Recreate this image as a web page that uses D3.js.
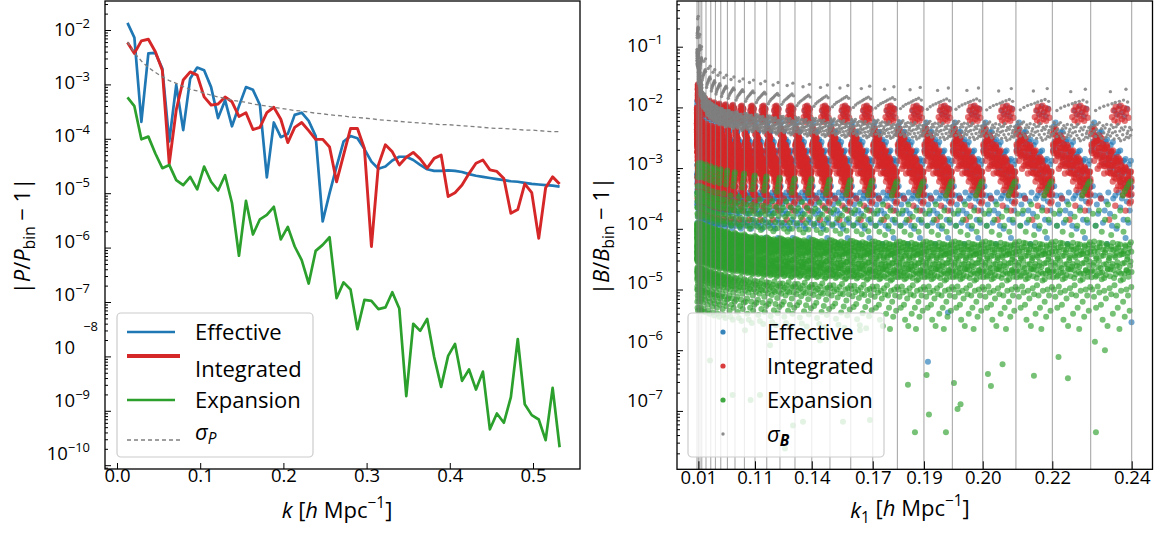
<!DOCTYPE html>
<html>
<head>
<meta charset="utf-8">
<script src="https://cdn.jsdelivr.net/npm/d3@7"></script>
<style>
  body { margin: 0; background: #fff; }
  svg text { font-family: "Open Sans", "Noto Sans", sans-serif; fill: #000; }
</style>
</head>
<body>
<svg id="fig" width="1166" height="534"></svg>
<script>
// =====================
// LEFT PANEL: P(k) data
// =====================

const kVals = [0.0126, 0.0209, 0.0293, 0.0377, 0.0461, 0.0545, 0.0628, 0.0712, 0.0796, 0.0880,
  0.0964, 0.1047, 0.1131, 0.1215, 0.1299, 0.1382, 0.1466, 0.1550, 0.1634, 0.1718,
  0.1801, 0.1885, 0.1969, 0.2053, 0.2136, 0.2220, 0.2304, 0.2388, 0.2472, 0.2555,
  0.2639, 0.2723, 0.2807, 0.2890, 0.2974, 0.3058, 0.3142, 0.3226, 0.3309, 0.3393,
  0.3477, 0.3561, 0.3644, 0.3728, 0.3812, 0.3896, 0.3980, 0.4063, 0.4147, 0.4231,
  0.4315, 0.4398, 0.4482, 0.4566, 0.4650, 0.4734, 0.4817, 0.4901, 0.4985, 0.5069,
  0.5152, 0.5236, 0.5320];

// log10 |P/P_bin - 1|
const effLog = [-1.87, -2.14, -3.69, -2.43, -2.42, -2.71, -4.05, -3.01, -3.84, -2.89,
  -2.69, -2.74, -3.05, -3.62, -3.29, -3.77, -3.40, -3.05, -3.10, -3.38,
  -4.71, -3.70, -3.97, -3.91, -3.56, -3.52, -3.67, -3.95, -5.52, -5.00,
  -4.51, -4.05, -3.95, -3.99, -4.19, -4.42, -4.55, -4.51, -4.40, -4.33,
  -4.33, -4.39, -4.48, -4.56, -4.59, -4.59, -4.58, -4.59, -4.61, -4.65,
  -4.68, -4.70, -4.72, -4.74, -4.76, -4.78, -4.79, -4.81, -4.83, -4.84,
  -4.85, -4.86, -4.88];
const intLog = [-2.23, -2.43, -2.20, -2.17, -2.40, -2.74, -4.46, -3.47, -2.92, -2.77,
  -2.83, -3.23, -3.38, -3.36, -3.23, -3.32, -3.59, -3.52, -3.83, -3.79,
  -3.52, -3.42, -3.64, -4.07, -3.79, -3.70, -3.85, -4.01, -4.01, -4.15,
  -4.79, -4.30, -3.81, -3.81, -4.18, -5.98, -4.48, -4.11, -4.24, -4.48,
  -4.34, -4.25, -4.37, -4.54, -4.36, -4.30, -5.06, -4.99, -4.85, -4.64,
  -4.45, -4.39, -4.57, -4.60, -4.73, -5.37, -5.30, -4.83, -4.99, -5.83,
  -4.90, -4.70, -4.83];
const expLog = [-3.24, -3.40, -4.01, -3.96, -4.27, -4.54, -4.48, -4.76, -4.85, -4.70,
  -4.93, -4.51, -4.79, -4.95, -4.67, -5.18, -6.15, -5.14, -5.76, -5.48,
  -5.40, -5.25, -5.85, -5.62, -5.98, -6.23, -6.66, -6.06, -5.95, -5.81,
  -6.93, -6.64, -6.77, -7.50, -6.96, -6.98, -7.13, -7.10, -6.82, -7.12,
  -8.73, -7.40, -7.53, -7.31, -8.01, -8.56, -7.99, -7.77, -8.45, -8.24,
  -8.61, -8.28, -9.34, -9.05, -9.22, -8.75, -7.68, -8.88, -9.08, -9.16,
  -9.54, -8.58, -9.67];
const sigPLog = [-2.22, -2.42, -2.57, -2.69, -2.78, -2.86, -2.93, -2.98, -3.04, -3.09,
  -3.12, -3.16, -3.20, -3.23, -3.26, -3.29, -3.31, -3.33, -3.36, -3.38,
  -3.40, -3.42, -3.44, -3.46, -3.48, -3.49, -3.51, -3.53, -3.54, -3.56,
  -3.57, -3.58, -3.60, -3.61, -3.62, -3.63, -3.65, -3.66, -3.67, -3.68,
  -3.69, -3.70, -3.71, -3.72, -3.73, -3.74, -3.74, -3.75, -3.76, -3.77,
  -3.78, -3.79, -3.80, -3.81, -3.81, -3.82, -3.83, -3.84, -3.84, -3.85,
  -3.86, -3.87, -3.87];

const kTicks = [0, 0.1, 0.2, 0.3, 0.4, 0.5];

// ==========================
// RIGHT PANEL: B(k1,k2,k3)
// ==========================

// triangle index where each k1 bin ends (vertical lines)
const binEdges = [0, 7, 15, 24, 45, 69, 92, 119, 152, 190, 237, 290, 349, 415, 490,
  574, 665, 769, 879, 1002, 1135, 1277, 1429, 1595, 1777, 1969, 2174];
const k1TickIdx = [7, 290, 574, 879, 1135, 1429, 1777, 2174];
const k1TickLab = ["0.01", "0.11", "0.14", "0.17", "0.19", "0.20", "0.22", "0.24"];

// position of a triangle inside its k1 bin (0..1), two interleaved sets
const uA = [0.01, 0.03, 0.05, 0.08, 0.09, 0.12, 0.14, 0.16, 0.19, 0.21, 0.23, 0.26, 0.27, 0.30, 0.32,
  0.35, 0.37, 0.39, 0.41, 0.44, 0.46, 0.48, 0.50, 0.53, 0.55, 0.57, 0.60, 0.62, 0.64, 0.66,
  0.69, 0.71, 0.73, 0.75, 0.78, 0.80, 0.82, 0.84, 0.87, 0.89, 0.91, 0.93, 0.95, 0.97, 0.99];
const uB = [0.02, 0.04, 0.06, 0.085, 0.10, 0.13, 0.15, 0.17, 0.20, 0.22, 0.24, 0.265, 0.28, 0.31, 0.33,
  0.36, 0.38, 0.40, 0.42, 0.45, 0.47, 0.49, 0.51, 0.54, 0.56, 0.58, 0.61, 0.63, 0.65, 0.67,
  0.70, 0.72, 0.74, 0.76, 0.79, 0.81, 0.83, 0.85, 0.88, 0.90, 0.92, 0.94, 0.96, 0.98, 0.995];

// log10 |B/B_bin - 1| in a typical k1 bin, main band
const intA = [-2.44, -2.64, -2.36, -2.59, -2.46, -2.79, -2.59, -2.48, -2.73, -2.46, -2.83, -2.66, -2.94, -2.61, -2.81,
  -2.69, -2.97, -2.62, -2.93, -2.85, -2.80, -3.00, -2.72, -2.95, -2.83, -3.15, -2.96, -2.85, -3.09, -2.82,
  -3.20, -3.02, -3.30, -2.97, -3.17, -3.05, -3.33, -2.98, -3.30, -3.21, -3.16, -3.36, -3.08, -3.31, -3.18];
const intB = [-2.72, -2.39, -2.61, -2.35, -2.71, -2.56, -2.80, -2.54, -2.67, -2.52, -2.78, -2.51, -2.86, -2.69, -2.97,
  -2.67, -2.84, -2.65, -2.95, -2.83, -3.08, -2.75, -2.97, -2.71, -3.08, -2.92, -3.17, -2.90, -3.03, -2.88,
  -3.15, -2.88, -3.23, -3.05, -3.34, -3.03, -3.20, -3.01, -3.31, -3.19, -3.44, -3.11, -3.33, -3.06, -3.43];
const intC = [-2.61, -2.75, -2.39, -2.88, -2.55, -2.76, -2.54, -3.01, -2.67, -2.96, -2.50, -2.90, -2.60, -2.80, -3.09,
  -2.72, -2.92, -2.66, -3.07, -2.84, -2.95, -3.09, -2.73, -3.22, -2.89, -3.10, -2.88, -3.36, -3.01, -3.30,
  -2.85, -3.23, -2.95, -3.13, -3.44, -3.06, -3.26, -3.00, -3.41, -3.18, -3.28, -3.43, -3.06, -3.55, -3.22];
const effB = [-2.70, -2.31, -2.56, -2.25, -2.68, -2.49, -2.78, -2.45, -2.60, -2.41, -2.73, -2.40, -2.82, -2.60, -2.93,
  -2.56, -2.77, -2.53, -2.87, -2.73, -3.02, -2.62, -2.88, -2.57, -3.00, -2.81, -3.10, -2.77, -2.92, -2.73,
  -3.05, -2.71, -3.14, -2.91, -3.25, -2.88, -3.08, -2.85, -3.20, -3.04, -3.33, -2.94, -3.19, -2.88, -3.31];
const expA = [-4.42, -4.69, -4.27, -4.56, -4.37, -4.79, -4.49, -4.31, -4.63, -4.23, -4.73, -4.45, -4.83, -4.34, -4.59,
  -4.39, -4.76, -4.25, -4.66, -4.52, -4.44, -4.67, -4.29, -4.58, -4.35, -4.81, -4.47, -4.33, -4.61, -4.25,
  -4.71, -4.43, -4.85, -4.36, -4.57, -4.41, -4.74, -4.27, -4.68, -4.50, -4.40, -4.71, -4.26, -4.54, -4.38];
const expB = [-4.80, -4.32, -4.60, -4.21, -4.70, -4.46, -4.77, -4.38, -4.53, -4.30, -4.65, -4.24, -4.72, -4.44, -4.81,
  -4.35, -4.58, -4.28, -4.67, -4.48, -4.78, -4.34, -4.62, -4.23, -4.68, -4.44, -4.75, -4.40, -4.55, -4.31,
  -4.63, -4.26, -4.74, -4.42, -4.83, -4.37, -4.56, -4.29, -4.69, -4.46, -4.79, -4.33, -4.61, -4.22, -4.71];
const sigBA = [-2.32, -2.43, -2.25, -2.39, -2.30, -2.48, -2.36, -2.28, -2.43, -2.25, -2.47, -2.35, -2.51, -2.30, -2.42,
  -2.34, -2.49, -2.28, -2.45, -2.40, -2.36, -2.47, -2.29, -2.42, -2.33, -2.52, -2.40, -2.32, -2.46, -2.28,
  -2.51, -2.39, -2.55, -2.34, -2.45, -2.37, -2.53, -2.32, -2.49, -2.43, -2.39, -2.50, -2.33, -2.46, -2.37];

// smaller groups: [position in bin, log10 value]
const intExtra = [
  [0.52, -2.16], [0.56, -2.05], [0.58, -2.21], [0.61, -1.99], [0.63, -2.11], [0.66, -2.24], [0.68, -2.03],
  [0.71, -2.14], [0.73, -1.97], [0.76, -2.19], [0.78, -2.07], [0.81, -2.01], [0.83, -2.22], [0.86, -2.10],
  [0.89, -2.03], [0.92, -2.17],
  [0.25, -3.50], [0.60, -3.62], [0.85, -3.70], [0.45, -3.85], [0.95, -3.58]];
const effExtra = [
  [0.58, -2.05], [0.65, -2.12], [0.70, -1.98], [0.76, -2.08], [0.82, -2.15], [0.88, -2.02],
  [0.05, -3.30], [0.15, -3.60], [0.22, -3.45], [0.30, -3.90], [0.38, -3.55], [0.47, -3.75],
  [0.55, -3.50], [0.63, -4.00], [0.72, -3.65], [0.80, -3.85], [0.88, -3.55], [0.95, -3.70],
  [0.40, -4.25], [0.85, -4.15], [0.12, -3.95], [0.68, -3.40],
  [0.10, -3.45], [0.18, -3.75], [0.26, -3.50], [0.34, -3.70], [0.43, -3.40], [0.52, -3.95],
  [0.60, -3.45], [0.76, -3.50], [0.92, -3.90], [0.98, -3.45]];
const expExtra = [
  [0.78, -3.45], [0.83, -3.38], [0.88, -3.32], [0.93, -3.26], [0.97, -3.22],
  [0.05, -3.75], [0.12, -3.95], [0.20, -3.70], [0.27, -4.05], [0.35, -3.85], [0.42, -3.60],
  [0.50, -4.10], [0.58, -3.80], [0.65, -3.95], [0.72, -3.70], [0.80, -4.05], [0.90, -3.85],
  [0.04, -5.00], [0.13, -5.30], [0.21, -5.05], [0.29, -5.50], [0.37, -5.15], [0.46, -4.98],
  [0.54, -5.40], [0.62, -5.10], [0.70, -5.65], [0.79, -5.20], [0.87, -5.00], [0.95, -5.35],
  [0.08, -5.12], [0.17, -4.95], [0.25, -5.25], [0.33, -5.02], [0.41, -5.60], [0.50, -5.08],
  [0.58, -4.93], [0.66, -5.30], [0.74, -5.02], [0.83, -5.45], [0.91, -5.10], [0.99, -4.96]];
const sigBExtra = [
  [0.12, -2.05], [0.22, -2.01], [0.32, -1.98], [0.42, -1.96], [0.52, -1.94], [0.60, -1.92],
  [0.70, -1.90], [0.80, -1.88], [0.90, -1.91], [0.48, -1.74], [0.86, -1.70]];

// how far each k1 bin sits above the typical cloud (log10)
const effShift = [0.35, 0.25, 0.18, 0.12, 0.08, 0.05, 0.03, 0.02, 0.01, 0, 0, 0, 0, 0, 0, 0, 0, 0, 0, 0, 0, 0, 0, 0, 0, 0];
const intShift = [0.35, 0.25, 0.18, 0.12, 0.08, 0.05, 0.03, 0.02, 0.01, 0, 0, 0, 0, 0, 0, 0, 0, 0, 0, 0, 0, 0, 0, 0, 0, 0];
const expShift = [0.3, 0.3, 0.3, 0.28, 0.25, 0.22, 0.2, 0.18, 0.15, 0.13, 0.1, 0.08, 0.06, 0.05, 0.04, 0.03, 0.02, 0.01, 0, 0, 0, 0, 0, 0, 0, 0];
const sigBShift = [1.2, 0.9, 0.7, 0.5, 0.38, 0.32, 0.27, 0.23, 0.2, 0.17, 0.15, 0.13, 0.11, 0.1, 0.08, 0.07, 0.06, 0.05, 0.04, 0.03, 0.02, 0.02, 0.01, 0.01, 0, 0];

// single low points: [triangle index, log10 value]
const expOutliers = [[1090, -7.35], [1160, -7.06], [1245, -7.35], [1303, -6.97], [1318, -6.89],
  [1995, -7.35], [1055, -6.57], [1148, -6.41], [1285, -6.54], [1455, -6.39], [1470, -6.59],
  [1528, -6.23], [1685, -6.42], [1808, -6.11], [1855, -6.46], [2040, -6.0], [1990, -5.86],
  [178, -6.74], [268, -6.82], [440, -7.62], [530, -7.18], [730, -7.18], [480, -7.24],
  [240, -5.67], [365, -5.92], [615, -5.84], [815, -5.67], [65, -6.17], [315, -6.74],
  [715, -6.24], [865, -7.15]];
const effOutliers = [[1155, -6.19], [2173, -5.54], [1255, -5.38]];

// ======
// LAYOUT
// ======

const svg = d3.select("#fig");
const BLUE = "#1f77b4", RED = "#d62728", GREEN = "#2ca02c", GREY = "#7f7f7f";
const tickFont = 18.5, bigFont = 22;

const L = { x0: 105, x1: 580, y0: 1, y1: 469 };
const R = { x0: 677, x1: 1152.5, y0: 1, y1: 469.3 };

const xL = d3.scaleLinear().domain([-0.01442, 0.5565]).range([L.x0, L.x1]);
const yL = d3.scaleLog().domain([Math.pow(10, -10.07), Math.pow(10, -1.467)]).range([L.y1, L.y0]);
const xR = d3.scaleLinear().domain([-100, 2278]).range([R.x0, R.x1]);
const yR = d3.scaleLog().domain([Math.pow(10, -7.962), Math.pow(10, -0.247)]).range([R.y1, R.y0]);

const defs = svg.append("defs");
defs.append("clipPath").attr("id", "clipL").append("rect")
  .attr("x", L.x0).attr("y", L.y0).attr("width", L.x1 - L.x0).attr("height", L.y1 - L.y0);
defs.append("clipPath").attr("id", "clipR").append("rect")
  .attr("x", R.x0).attr("y", R.y0).attr("width", R.x1 - R.x0).attr("height", R.y1 - R.y0);

// log axis helpers
function minorTicks(lo, hi) {
  const out = [];
  for (let d = Math.floor(lo); d <= Math.ceil(hi); d++) {
    for (let m = 2; m <= 9; m++) {
      const v = m * Math.pow(10, d);
      const lv = Math.log10(v);
      if (lv > lo && lv < hi) out.push(v);
    }
  }
  return out;
}

function yAxis(P, yScale, decades, lo, hi, labelRight) {
  const g = svg.append("g").attr("transform", `translate(${P.x0},0)`);
  g.call(d3.axisLeft(yScale).tickValues(decades.map(d => Math.pow(10, d)))
    .tickSize(-6).tickSizeOuter(0).tickFormat(() => ""));
  g.call(gg => gg.select(".domain").remove());
  const gm = svg.append("g").attr("transform", `translate(${P.x0},0)`);
  gm.call(d3.axisLeft(yScale).tickValues(minorTicks(lo, hi))
    .tickSize(-3).tickSizeOuter(0).tickFormat(() => ""));
  gm.call(gg => gg.select(".domain").remove());

  decades.forEach(d => {
    const ty = yScale(Math.pow(10, d));
    const y = ty - 0.025 * (ty - P.y0);
    if (d === -8 && P === L) {
      // detached exponent, as in the original rendering
      svg.append("text").attr("x", labelRight - 15).attr("y", y).attr("dy", "0.35em")
        .attr("text-anchor", "end").attr("font-size", tickFont).text("10");
      svg.append("text").attr("x", labelRight + 8).attr("y", y - 21).attr("dy", "0.35em")
        .attr("text-anchor", "end").attr("font-size", tickFont * 0.7).text("\u22128");
      return;
    }
    const t = svg.append("text").attr("x", labelRight).attr("y", y).attr("dy", "0.35em")
      .attr("text-anchor", "end").attr("font-size", tickFont);
    t.append("tspan").text("10");
    t.append("tspan").attr("font-size", tickFont * 0.7).attr("dy", "-0.6em").text("\u2212" + (-d));
  });
}

function frame(P) {
  svg.append("rect").attr("x", P.x0).attr("y", P.y0)
    .attr("width", P.x1 - P.x0).attr("height", P.y1 - P.y0)
    .attr("fill", "none").attr("stroke", "#000").attr("stroke-width", 1.3);
}

function mathText(x, y, parts, rotate) {
  const t = svg.append("text").attr("font-size", bigFont).attr("text-anchor", "middle");
  if (rotate) t.attr("transform", `translate(${x},${y}) rotate(-90)`);
  else t.attr("x", x).attr("y", y);
  parts.forEach(p => {
    const s = t.append("tspan").text(p.t);
    if (p.it) s.attr("font-style", "italic");
    if (p.sub) s.attr("font-size", bigFont * 0.7).attr("dy", "0.3em");
    if (p.sup) s.attr("font-size", bigFont * 0.7).attr("dy", "-0.65em");
    if (p.back) s.attr("dy", p.back);
  });
  return t;
}

// ==========
// LEFT PANEL
// ==========

const gL = svg.append("g").attr("clip-path", "url(#clipL)");
const lineL = d3.line().x(d => xL(d[0])).y(d => yL(d[1]));
const leftSeries = [
  { name: "Effective", vals: effLog, color: BLUE, w: 2.7 },
  { name: "Integrated", vals: intLog, color: RED, w: 2.9 },
  { name: "Expansion", vals: expLog, color: GREEN, w: 2.7 },
  { name: "sigma", vals: sigPLog, color: GREY, w: 1.3, dash: "4,3" }
];
leftSeries.forEach(s => {
  gL.append("path")
    .datum(kVals.map((k, i) => [k, Math.pow(10, s.vals[i])]))
    .attr("d", lineL)
    .attr("fill", "none")
    .attr("stroke", s.color)
    .attr("stroke-width", s.w)
    .attr("stroke-linejoin", "round")
    .attr("stroke-dasharray", s.dash || null);
});

yAxis(L, yL, [-2, -3, -4, -5, -6, -7, -8, -9, -10], -10.07, -1.467, L.x0 - 15);

const gxL = svg.append("g").attr("transform", `translate(0,${L.y1})`)
  .call(d3.axisBottom(xL).tickValues(kTicks).tickSize(-6).tickSizeOuter(0)
    .tickPadding(0).tickFormat(d3.format(".1f")));
gxL.select(".domain").remove();
gxL.selectAll("text").attr("font-size", tickFont).attr("font-family", null);

frame(L);

// legend (left)
const legL = svg.append("g");
legL.append("rect").attr("x", 117).attr("y", 313).attr("width", 196).attr("height", 144)
  .attr("rx", 4).attr("fill", "#fff").attr("fill-opacity", 0.8)
  .attr("stroke", "#cccccc").attr("stroke-width", 1.2);
const legLRows = [
  { s: leftSeries[0], ly: 332, ty: 332, x2: 175, lw: 2.7 },
  { s: leftSeries[1], ly: 356, ty: 369, x2: 180, lw: 4 },
  { s: leftSeries[2], ly: 400, ty: 400, x2: 175, lw: 2.7 },
  { s: leftSeries[3], ly: 440, ty: 432, x2: 180, lw: 1.3 }
];
legLRows.forEach(r => {
  legL.append("line").attr("x1", 127).attr("x2", r.x2).attr("y1", r.ly).attr("y2", r.ly)
    .attr("stroke", r.s.color).attr("stroke-width", r.lw)
    .attr("stroke-dasharray", r.s.dash || null);
  const t = legL.append("text").attr("x", 195).attr("y", r.ty).attr("dy", "0.35em")
    .attr("font-size", bigFont);
  if (r.s.name === "sigma") {
    t.append("tspan").attr("font-style", "italic").text("\u03c3");
    t.append("tspan").attr("font-style", "italic").attr("font-size", bigFont * 0.7)
      .attr("dy", "0.3em").text("P");
  } else {
    t.text(r.s.name);
  }
});

// axis labels (left)
mathText(337, 518, [
  { t: "k", it: true }, { t: " [" }, { t: "h", it: true }, { t: " Mpc" },
  { t: "\u22121", sup: true }, { t: "]", back: "0.45em" }
]);
mathText(30, 236, [
  { t: "|" }, { t: "P", it: true }, { t: "/" }, { t: "P", it: true },
  { t: "bin", sub: true }, { t: " \u2212 1|", back: "-0.2em" }
], true);

// ===========
// RIGHT PANEL
// ===========

const zip = (us, vs) => us.map((u, i) => [u, vs[i]]);
const effProfile = zip(uB, effB).concat(effExtra);
const intProfile = zip(uA, intA).concat(zip(uB, intB), zip(uB, intC), intExtra);
const expProfile = zip(uA, expA).concat(zip(uB, expB), expExtra);
const sigBProfile = zip(uA, sigBA).concat(sigBExtra);

function cloud(profile, shift) {
  const pts = [];
  for (let b = 0; b < binEdges.length - 1; b++) {
    const a = binEdges[b], w = binEdges[b + 1] - binEdges[b];
    profile.forEach(([u, lv]) => pts.push([a + u * w, Math.pow(10, lv + shift[b])]));
  }
  return pts;
}

const gR = svg.append("g").attr("clip-path", "url(#clipR)");
const rightSeries = [
  { name: "Effective", pts: cloud(effProfile, effShift).concat(effOutliers.map(d => [d[0], Math.pow(10, d[1])])), color: BLUE, r: 3, op: 0.65 },
  { name: "Integrated", pts: cloud(intProfile, intShift), color: RED, r: 3.2, op: 0.65 },
  { name: "Expansion", pts: cloud(expProfile, expShift).concat(expOutliers.map(d => [d[0], Math.pow(10, d[1])])), color: GREEN, r: 3, op: 0.65 },
  { name: "sigma", pts: cloud(sigBProfile, sigBShift), color: GREY, r: 1.7, op: 0.85 }
];
rightSeries.forEach(s => {
  gR.append("g").selectAll("circle").data(s.pts).join("circle")
    .attr("cx", d => xR(d[0])).attr("cy", d => yR(d[1])).attr("r", s.r)
    .attr("fill", s.color).attr("fill-opacity", s.op);
});

// k1 bin boundaries
gR.append("g").selectAll("line").data(binEdges).join("line")
  .attr("x1", d => xR(d)).attr("x2", d => xR(d))
  .attr("y1", R.y0).attr("y2", R.y1)
  .attr("stroke", "#808080").attr("stroke-opacity", 0.75).attr("stroke-width", 1);

yAxis(R, yR, [-1, -2, -3, -4, -5, -6, -7], -7.962, -0.247, R.x0 - 14);

const gxR = svg.append("g").attr("transform", `translate(0,${R.y1})`)
  .call(d3.axisBottom(xR).tickValues(k1TickIdx).tickSize(-8).tickSizeOuter(0)
    .tickPadding(1.5).tickFormat((d, i) => k1TickLab[i]));
gxR.select(".domain").remove();
gxR.selectAll("text").attr("font-size", tickFont).attr("font-family", null);

frame(R);

// legend (right)
const legR = svg.append("g");
legR.append("rect").attr("x", 688).attr("y", 313).attr("width", 196).attr("height", 144)
  .attr("rx", 4).attr("fill", "#fff").attr("fill-opacity", 0.8)
  .attr("stroke", "#cccccc").attr("stroke-width", 1.2);
const legRRows = [332, 366, 400, 434];
rightSeries.forEach((s, i) => {
  legR.append("circle").attr("cx", 723).attr("cy", legRRows[i])
    .attr("r", s.name === "sigma" ? 1.7 : 2.6).attr("fill", s.color).attr("fill-opacity", 0.9);
  const t = legR.append("text").attr("x", 767).attr("y", legRRows[i]).attr("dy", "0.35em")
    .attr("font-size", bigFont);
  if (s.name === "sigma") {
    t.append("tspan").attr("font-style", "italic").text("\u03c3");
    t.append("tspan").attr("font-style", "italic").attr("font-weight", "bold")
      .attr("font-size", bigFont * 0.7).attr("dy", "0.3em").text("B");
  } else {
    t.text(s.name);
  }
});

// axis labels (right)
mathText(910, 518, [
  { t: "k", it: true }, { t: "1", sub: true }, { t: " [", back: "-0.3em" }, { t: "h", it: true },
  { t: " Mpc" }, { t: "\u22121", sup: true }, { t: "]", back: "0.45em" }
]);
mathText(609, 236, [
  { t: "|" }, { t: "B", it: true }, { t: "/" }, { t: "B", it: true },
  { t: "bin", sub: true }, { t: " \u2212 1|", back: "-0.2em" }
], true);
</script>
</body>
</html>
